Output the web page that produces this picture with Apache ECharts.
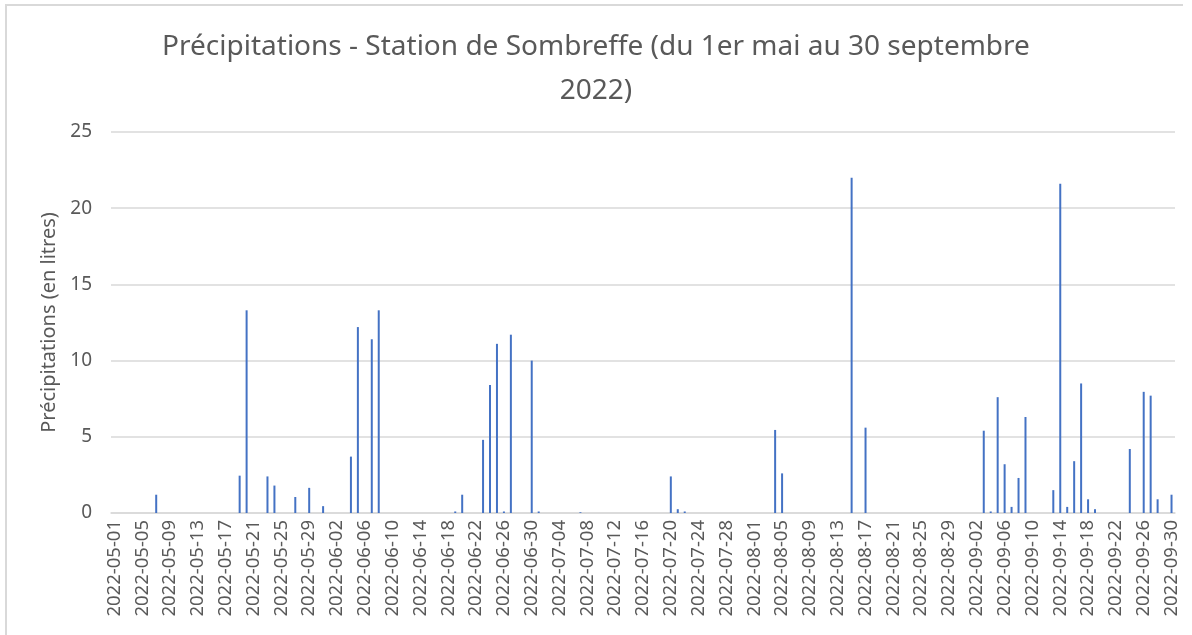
<!DOCTYPE html>
<html>
<head>
<meta charset="utf-8">
<script src="https://cdn.jsdelivr.net/npm/echarts@6/dist/echarts.min.js"></script>
<style>
  html, body { margin: 0; padding: 0; background: #fff; }
  #chart { width: 1192px; height: 635px; }
</style>
</head>
<body>
<div id="chart"></div>
<script>
// précipitations journalières (litres), une liste par mois
var mai = [0, 0, 0, 0, 0, 0, 1.2, 0, 0, 0, 0, 0, 0, 0, 0, 0, 0, 0, 2.45, 13.3,
  0, 0, 2.4, 1.8, 0, 0, 1.05, 0, 1.65, 0, 0.45];
var juin = [0, 0, 0, 3.7, 12.2, 0, 11.4, 13.3, 0, 0, 0, 0, 0, 0, 0, 0, 0, 0, 0.1, 1.2,
  0, 0, 4.8, 8.4, 11.1, 0.1, 11.7, 0, 0, 10.0];
var juillet = [0.1, 0, 0, 0, 0, 0, 0.05, 0, 0, 0, 0, 0, 0, 0, 0, 0, 0, 0, 0, 2.4,
  0.25, 0.1, 0, 0, 0, 0, 0, 0, 0, 0, 0];
var aout = [0, 0, 0, 5.45, 2.6, 0, 0, 0, 0, 0, 0, 0, 0, 0, 22.0, 0, 5.6, 0, 0, 0,
  0, 0, 0, 0, 0, 0, 0, 0, 0, 0, 0];
var septembre = [0, 0, 5.4, 0.1, 7.6, 3.2, 0.4, 2.3, 6.3, 0, 0, 0, 1.5, 21.6, 0.4, 3.4, 8.5, 0.9, 0.25, 0,
  0, 0, 0, 4.2, 0, 7.95, 7.7, 0.9, 0, 1.2];

var mois = ['05', '06', '07', '08', '09'];
var parMois = [mai, juin, juillet, aout, septembre];
var yTicks = [0, 5, 10, 15, 20, 25];

// dates (catégories) et valeurs
var dates = [];
var valeurs = [];
parMois.forEach(function (liste, m) {
  liste.forEach(function (v, j) {
    var jour = (j + 1 < 10 ? '0' : '') + (j + 1);
    dates.push('2022-' + mois[m] + '-' + jour);
    valeurs.push(v);
  });
});

var chart = echarts.init(document.getElementById('chart'));
var gris = '#595959';
var police = 'Noto Sans';

var option = {
  backgroundColor: '#fff',
  animation: false,
  title: {
    text: 'Précipitations - Station de Sombreffe (du 1er mai au 30 septembre\n2022)',
    left: 'center',
    top: 20,
    textStyle: {
      fontFamily: police,
      fontSize: 28,
      fontWeight: 'normal',
      color: gris,
      lineHeight: 44
    }
  },
  graphic: [{
    type: 'polyline',
    shape: { points: [[6, 640], [6, 5], [1183, 5]] },
    style: { stroke: '#d9d9d9', lineWidth: 2, fill: null }
  }],
  grid: {
    left: 111,
    right: 17,
    top: 132,
    bottom: 122
  },
  xAxis: {
    type: 'category',
    data: dates,
    boundaryGap: true,
    axisLine: { lineStyle: { color: '#d9d9d9', width: 1.5 } },
    axisTick: { show: false },
    axisLabel: {
      interval: 3,
      rotate: 90,
      margin: 7,
      fontFamily: police,
      fontSize: 18.5,
      color: gris
    }
  },
  yAxis: {
    type: 'value',
    min: yTicks[0],
    max: yTicks[yTicks.length - 1],
    interval: 5,
    name: 'Précipitations (en litres)',
    nameLocation: 'middle',
    nameGap: 48,
    nameTextStyle: {
      fontFamily: police,
      fontSize: 20,
      color: gris
    },
    axisLine: { show: false },
    axisTick: { show: false },
    axisLabel: {
      margin: 19,
      fontFamily: police,
      fontSize: 19,
      color: gris
    },
    splitLine: { lineStyle: { color: '#d9d9d9', width: 1.5 } }
  },
  series: [{
    name: 'Précipitations',
    type: 'bar',
    data: valeurs,
    barWidth: 2,
    itemStyle: { color: '#4472C4' }
  }]
};

chart.setOption(option);
</script>
</body>
</html>
